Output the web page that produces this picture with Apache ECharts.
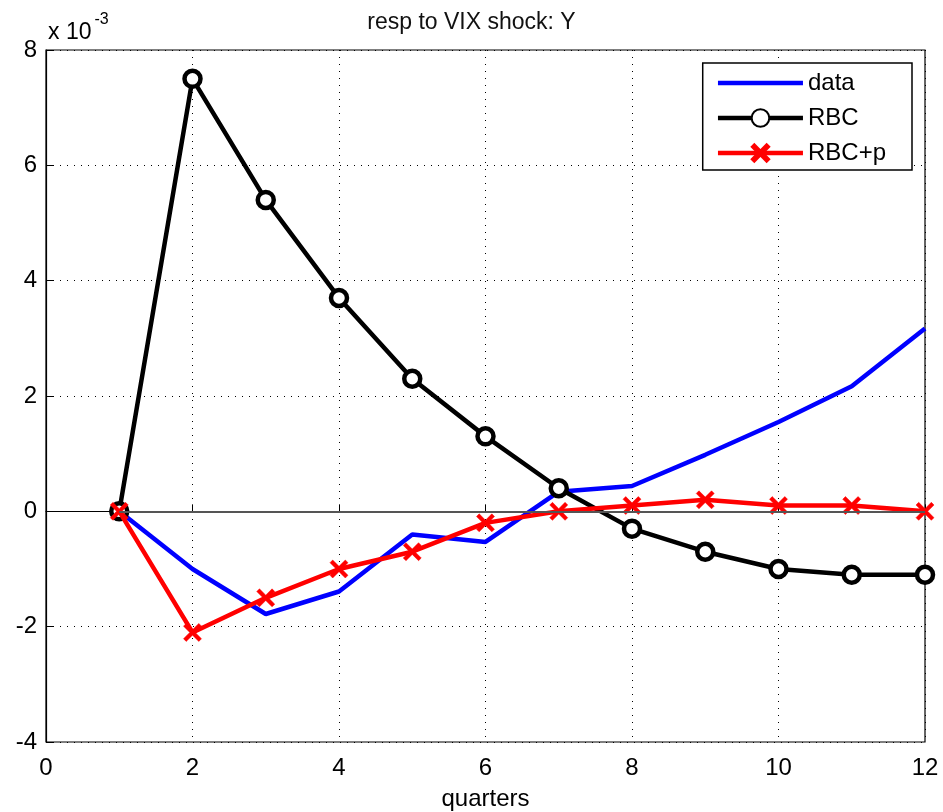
<!DOCTYPE html>
<html><head><meta charset="utf-8">
<script src="https://cdn.jsdelivr.net/npm/echarts@6/dist/echarts.min.js"></script>
<style>html,body{margin:0;padding:0;background:#fff}#c{width:943px;height:812px}</style>
</head><body><div id="c"></div>
<script>
const quarters = [1,2,3,4,5,6,7,8,9,10,11,12];
const dataSeries = [0, -1.0, -1.78, -1.39, -0.40, -0.53, 0.34, 0.44, 0.98, 1.55, 2.17, 3.17];
const rbcSeries = [0, 7.5, 5.4, 3.7, 2.3, 1.3, 0.4, -0.3, -0.7, -1.0, -1.1, -1.1];
const rbcpSeries = [0, -2.1, -1.5, -1.0, -0.7, -0.2, 0.0, 0.1, 0.2, 0.1, 0.1, 0.0];
const xTicks = [0,2,4,6,8,10,12];
const yTicks = [-4,-2,0,2,4,6,8];
const zeroLine = {from: 1, to: 12};

const font = 'Liberation Sans, Arial, sans-serif';
const pair = (arr) => quarters.map((q,i)=>[q, arr[i]]);
const xShape = 'path://M0,1.5 L1.5,0 L5,3.5 L8.5,0 L10,1.5 L6.5,5 L10,8.5 L8.5,10 L5,6.5 L1.5,10 L0,8.5 L3.5,5 Z';

const chart = echarts.init(document.getElementById('c'), null, {renderer:'canvas'});
chart.setOption({
  animation:false,
  backgroundColor:'#fff',
  title:{text:'resp to VIX shock: Y', left:'center', top:6,
    textStyle:{fontFamily:font, fontSize:23, fontWeight:'normal', color:'#111'}},
  grid:{left:46, right:18, top:50, bottom:70, show:true, borderColor:'#000', borderWidth:1.2,
    containLabel:false, outerBoundsMode:'none'},
  legend:{
    orient:'vertical', right:31, top:63,
    backgroundColor:'#fff', borderColor:'#000', borderWidth:1.5,
    padding:[8,26,5,13], itemGap:11, itemWidth:85, itemHeight:22,
    lineStyle:{width:4.5},
    textStyle:{fontFamily:font, fontSize:24, color:'#000'},
    data:[{name:'data', itemStyle:{opacity:0}}, 'RBC', 'RBC+p']
  },
  xAxis:{type:'value', min:0, max:12, interval:2,
    name:'quarters', nameLocation:'middle', nameGap:45,
    nameTextStyle:{fontFamily:font, fontSize:24, color:'#000'},
    axisLine:{show:true, lineStyle:{color:'#000', width:1.2}},
    axisTick:{inside:true, length:7, lineStyle:{color:'#000'}},
    axisLabel:{fontFamily:font, fontSize:24, color:'#000', margin:14,
      formatter:(v)=> xTicks.includes(v) ? String(v) : ''},
    splitLine:{show:true, lineStyle:{type:[1,6], color:'#000', width:1}}
  },
  yAxis:{type:'value', min:-4, max:8, interval:2,
    axisLine:{show:true, lineStyle:{color:'#000', width:1.2}},
    axisTick:{inside:true, length:7, lineStyle:{color:'#000'}},
    axisLabel:{fontFamily:font, fontSize:24, color:'#000', margin:9,
      formatter:(v)=> yTicks.includes(v) ? String(v) : ''},
    splitLine:{show:true, lineStyle:{type:[1,6], color:'#000', width:1}}
  },
  graphic:[{type:'text', left:48, top:12, style:{
    text:'{a|x 10}{b|-3}', rich:{
      a:{fontFamily:font, fontSize:23, fill:'#000', verticalAlign:'bottom', lineHeight:28},
      b:{fontFamily:font, fontSize:16, fill:'#000', verticalAlign:'top', padding:[0,0,16,3]}
    }}}],
  series:[
    {name:'data', type:'line', data:pair(dataSeries), symbol:'none', showSymbol:false,
      lineStyle:{color:'#0000ff', width:4.5}, itemStyle:{color:'#0000ff'}, z:2,
      markLine:{silent:true, symbol:'none', label:{show:false},
        lineStyle:{color:'#555', width:1.8, type:'solid'},
        data:[[{coord:[zeroLine.from,0]},{coord:[zeroLine.to,0]}]]}},
    {name:'RBC', type:'line', data:pair(rbcSeries), symbol:'circle', symbolSize:16,
      lineStyle:{color:'#000', width:4.5},
      itemStyle:{color:'#fff', borderColor:'#000', borderWidth:4.5}, z:3},
    {name:'RBC+p', type:'line', data:pair(rbcpSeries), symbol:xShape, symbolSize:18,
      lineStyle:{color:'#ff0000', width:4.5},
      itemStyle:{color:'#ff0000', borderColor:'#ff0000', borderWidth:0.5}, z:4}
  ]
});
</script></body></html>
